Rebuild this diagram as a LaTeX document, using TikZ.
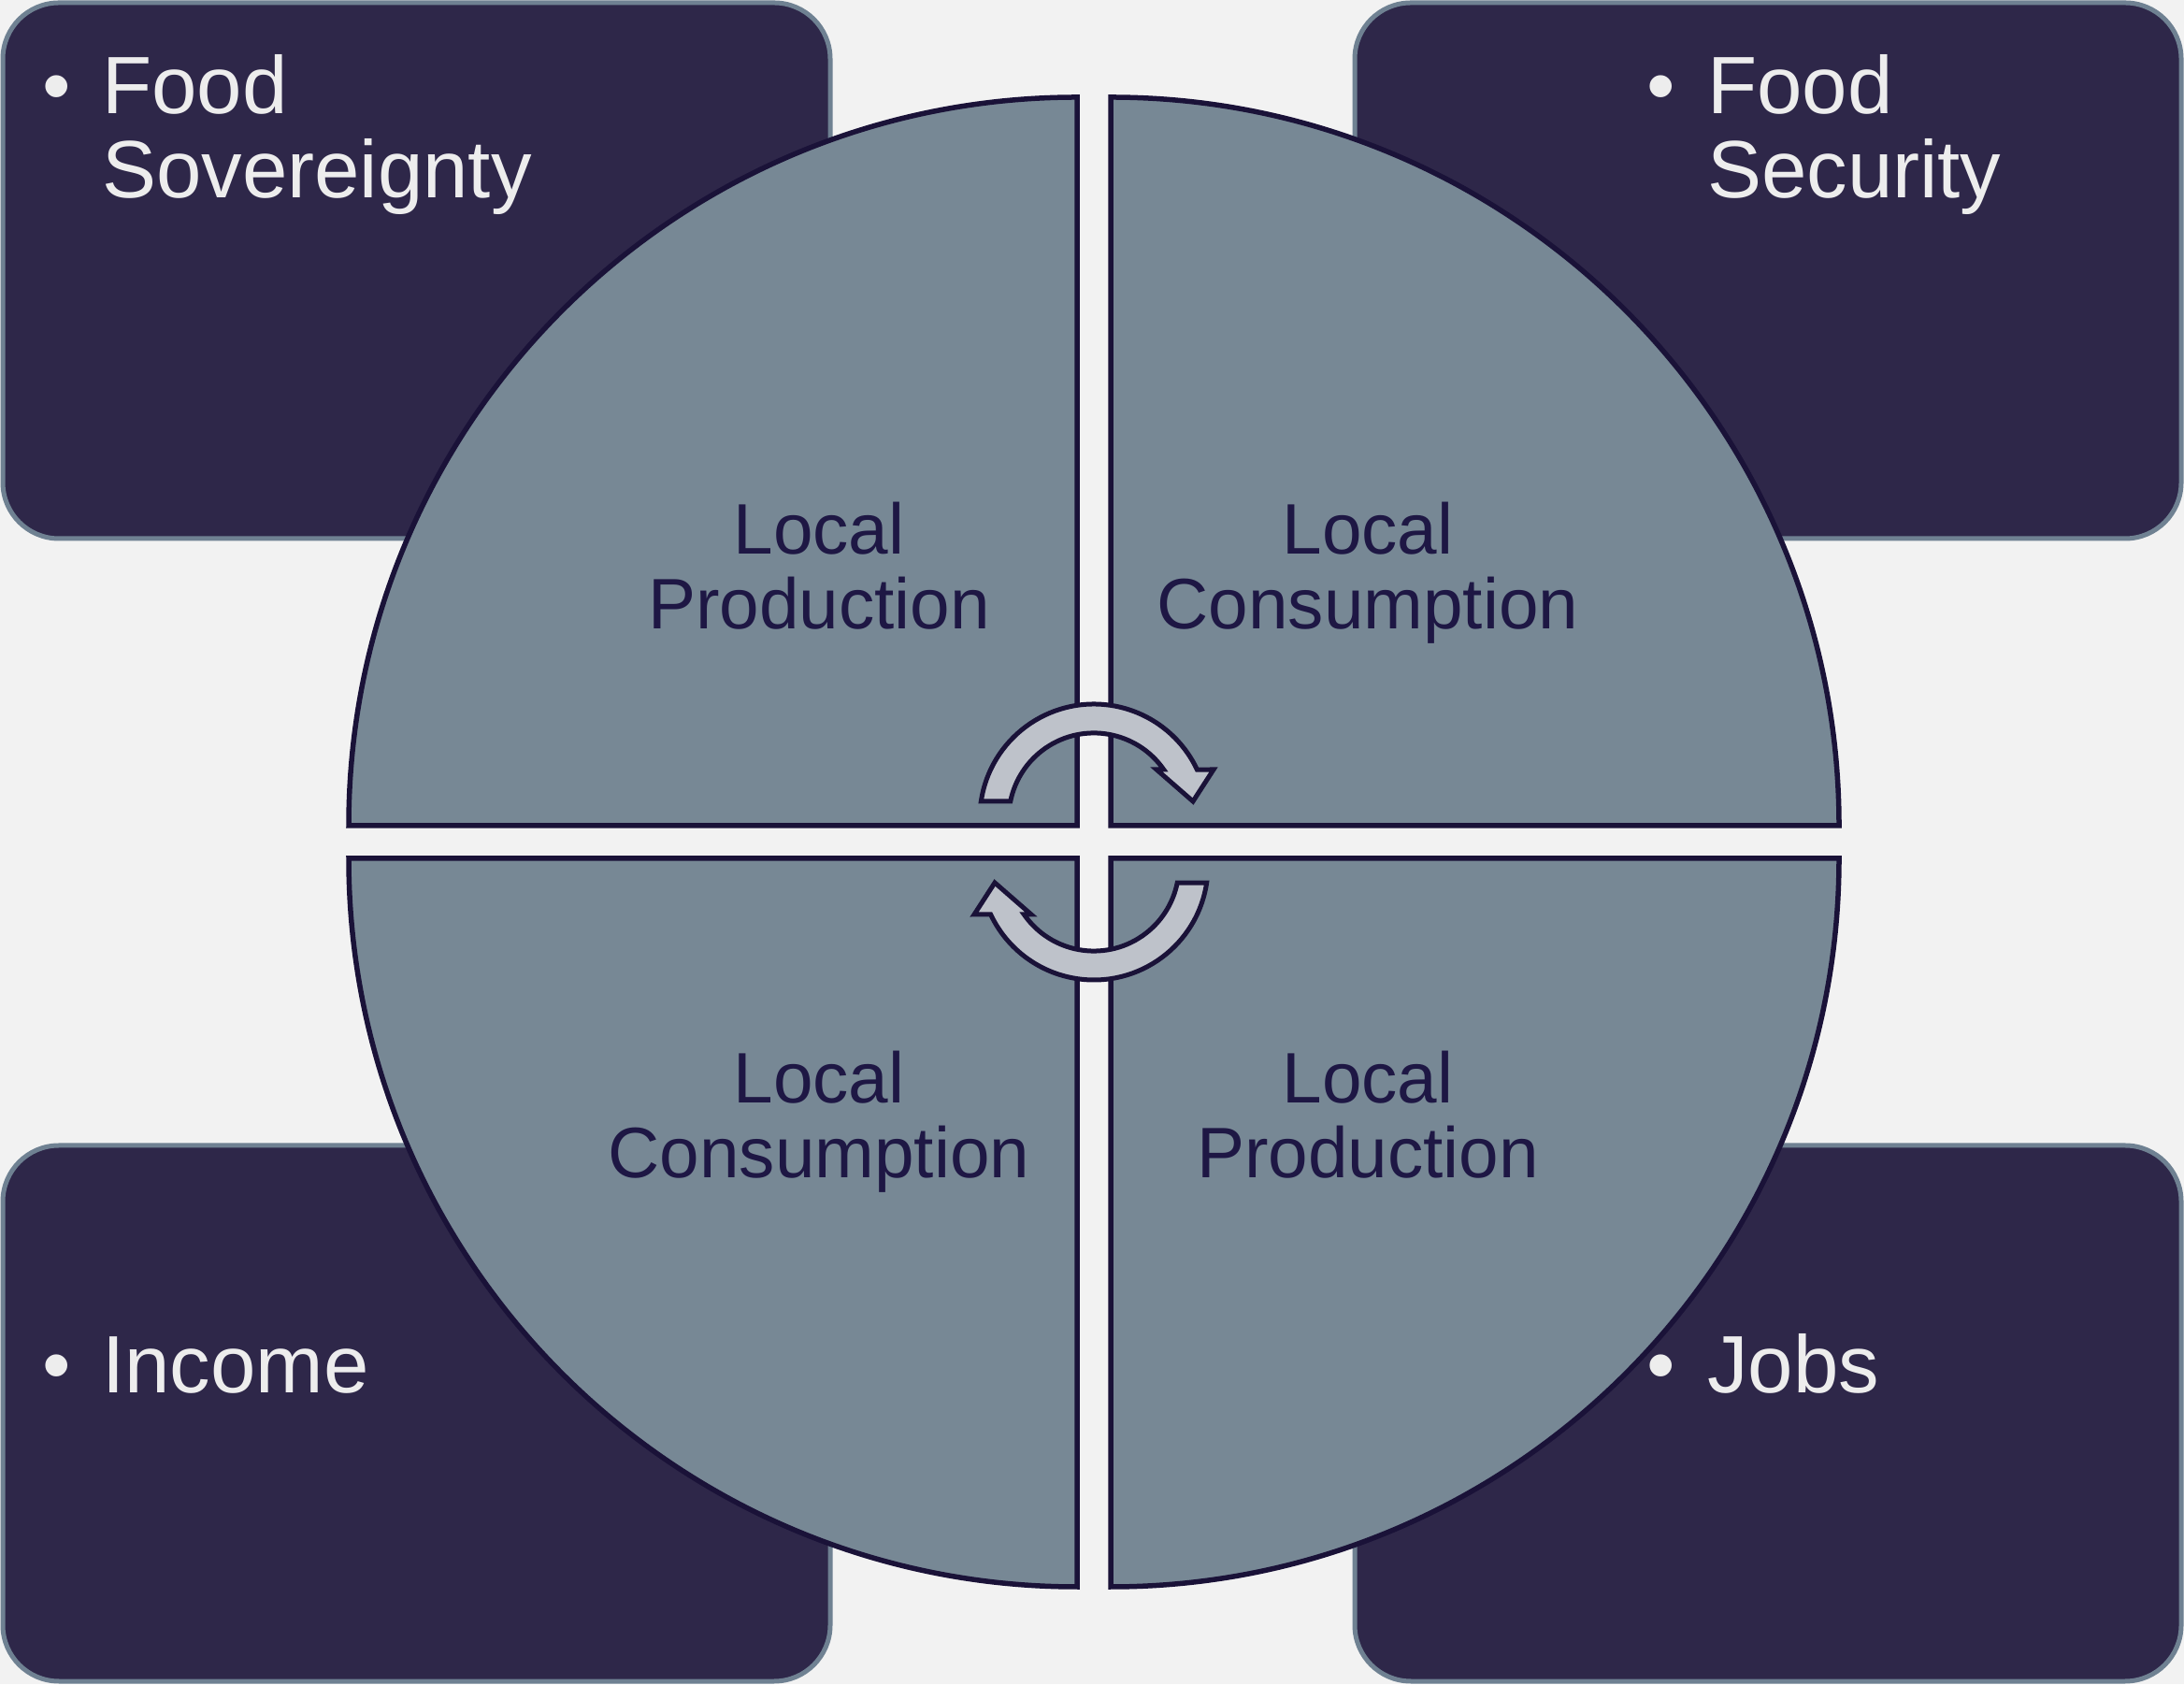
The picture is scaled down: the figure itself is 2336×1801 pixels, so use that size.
\documentclass[tikz,border=0pt]{standalone}
\usepackage{fontspec}
\setmainfont{Liberation Sans}
\definecolor{bgc}{HTML}{F2F2F2}
\definecolor{boxfill}{HTML}{2E2749}
\definecolor{boxborder}{HTML}{6F8192}
\definecolor{quadfill}{HTML}{778895}
\definecolor{outl}{HTML}{1A1238}
\definecolor{arrowfill}{HTML}{BEC2CA}
\definecolor{lighttext}{HTML}{EDEDED}
\definecolor{darktext}{HTML}{1E1744}
\begin{document}
\begin{tikzpicture}[x=1pt,y=1pt,
  infobox/.style={fill=boxfill,draw=boxborder,line width=5pt,rounded corners=60pt},
  quad/.style={fill=quadfill,draw=outl,line width=5.5pt,line join=miter},
  cyclearrow/.style={fill=arrowfill,draw=outl,line width=5pt,line join=miter},
  bullettext/.style={anchor=base west,inner sep=0pt,text=lighttext,font=\fontsize{87}{90}\selectfont},
  bulletdot/.style={anchor=base,inner sep=0pt,text=lighttext,font=\fontsize{87}{90}\selectfont},
  quadtext/.style={anchor=base,inner sep=0pt,text=darktext,font=\fontsize{76.5}{80}\selectfont}]
\useasboundingbox (0,0) rectangle (2336,1801);
\fill[bgc] (0,0) rectangle (2336,1801);
% corner boxes
\draw[infobox] (3,1225) rectangle (888,1798);
\draw[infobox] (1449,1225) rectangle (2333,1798);
\draw[infobox] (3,3) rectangle (888,576);
\draw[infobox] (1449,3) rectangle (2333,576);
% quadrants
\draw[quad] (1152,918) -- ++(-779,0) arc[start angle=180,end angle=90,radius=779] -- cycle;
\draw[quad] (1188,918) -- ++(0,779) arc[start angle=90,end angle=0,radius=779] -- cycle;
\draw[quad] (1152,883) -- ++(0,-779) arc[start angle=270,end angle=180,radius=779] -- cycle;
\draw[quad] (1188,883) -- ++(779,0) arc[start angle=0,end angle=-90,radius=779] -- cycle;
% circular arrows
\draw[cyclearrow] (1170,926) ++(171.5:122) arc[start angle=171.5,end angle=25.2,radius=122]
  -- (1298,978) -- (1276,944) -- (1237,978) -- (1244.7,978)
  arc[start angle=34.8,end angle=168.6,radius=91] -- cycle;
\begin{scope}[rotate around={180:(1170,900.5)}]
\draw[cyclearrow] (1170,926) ++(171.5:122) arc[start angle=171.5,end angle=25.2,radius=122]
  -- (1298,978) -- (1276,944) -- (1237,978) -- (1244.7,978)
  arc[start angle=34.8,end angle=168.6,radius=91] -- cycle;
\end{scope}
% quadrant labels
\node[quadtext] (qtl) at (876,1208) {\parbox[t]{600pt}{\centering Local\\Production}};
\node[quadtext] (qtr) at (1463,1208) {\parbox[t]{600pt}{\centering Local\\Consumption}};
\node[quadtext] (qbl) at (876,621) {\parbox[t]{600pt}{\centering Local\\Consumption}};
\node[quadtext] (qbr) at (1463,621) {\parbox[t]{600pt}{\centering Local\\Production}};
% box labels
\node[bulletdot] (btl) at (61,1679) {•};
\node[bullettext] (ttl) at (109,1679) {\parbox[t]{700pt}{\raggedright Food\\Sovereignty}};
\node[bulletdot] (btr) at (1777,1679) {•};
\node[bullettext] (ttr) at (1826,1679) {\parbox[t]{500pt}{\raggedright Food\\Security}};
\node[bulletdot] (bbl) at (61,311) {•};
\node[bullettext] (tbl) at (109,311) {Income};
\node[bulletdot] (bbr) at (1777,311) {•};
\node[bullettext] (tbr) at (1826,311) {Jobs};
\end{tikzpicture}
\end{document}
